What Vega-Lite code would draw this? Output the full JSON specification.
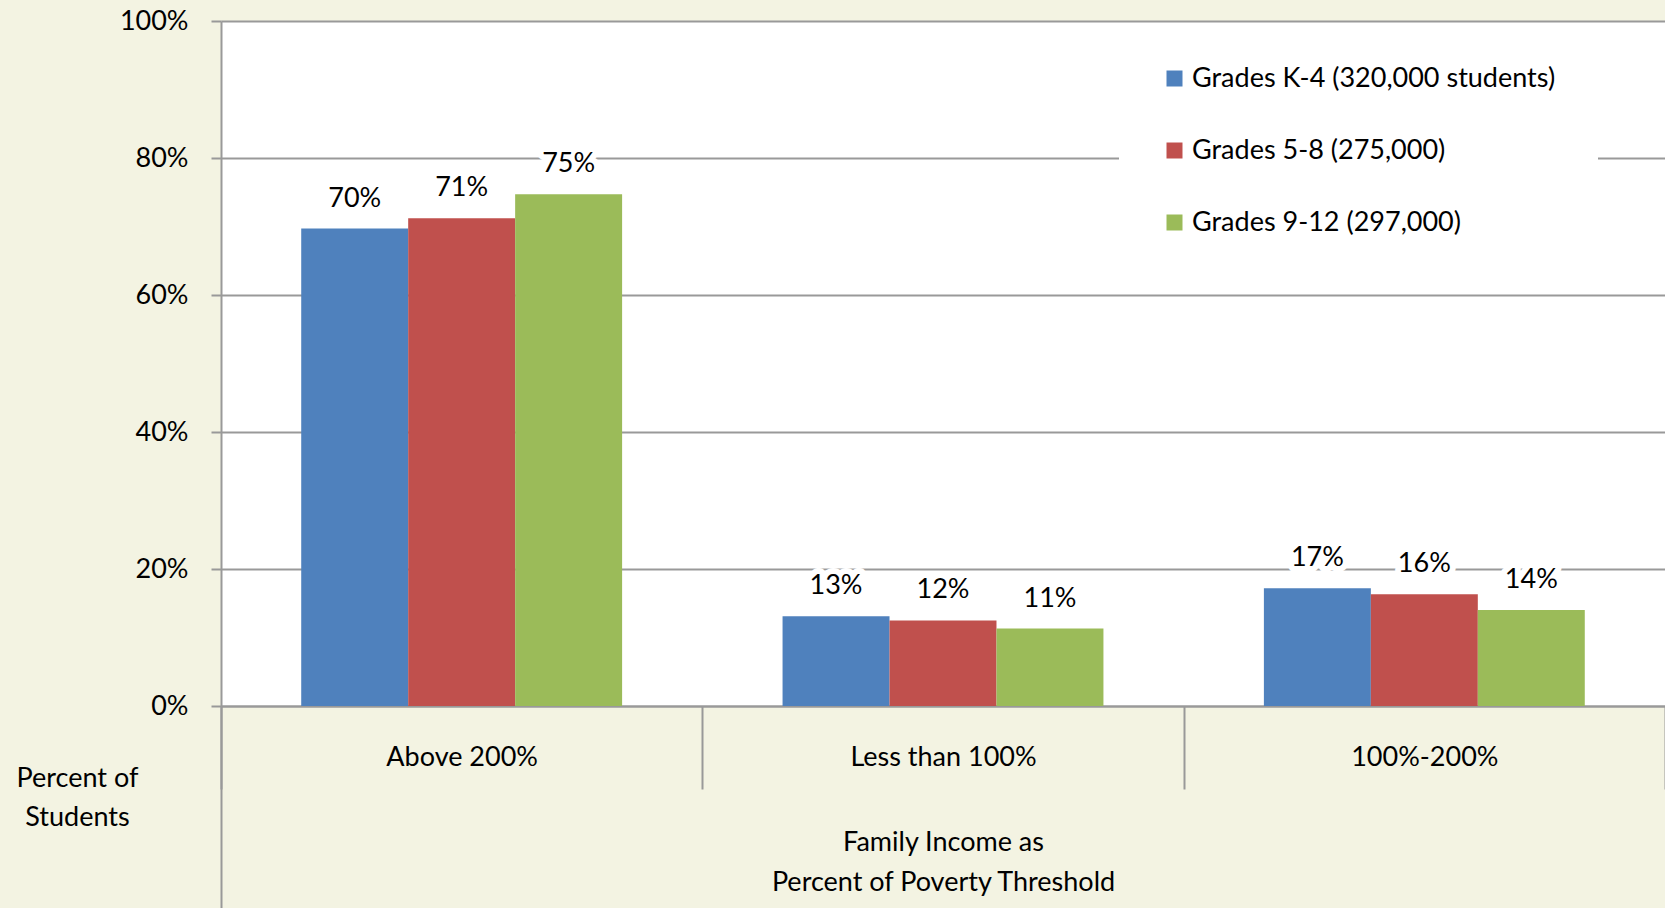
{
  "$schema": "https://vega.github.io/schema/vega-lite/v6.json",
  "width": 1444,
  "height": 685,
  "autosize": {"type": "none"},
  "padding": {"left": 221, "top": 21, "right": 0, "bottom": 202},
  "background": "#F3F3E2",
  "config": {"view": {"fill": "white", "stroke": null}, "font": "Lato"},
  "data": {
    "values": [
      {"income": "Above 200%", "grade": "Grades K-4 (320,000 students)", "value": 0.697, "label": "70%"},
      {"income": "Above 200%", "grade": "Grades 5-8 (275,000)", "value": 0.712, "label": "71%"},
      {"income": "Above 200%", "grade": "Grades 9-12 (297,000)", "value": 0.747, "label": "75%"},
      {"income": "Less than 100%", "grade": "Grades K-4 (320,000 students)", "value": 0.131, "label": "13%"},
      {"income": "Less than 100%", "grade": "Grades 5-8 (275,000)", "value": 0.125, "label": "12%"},
      {"income": "Less than 100%", "grade": "Grades 9-12 (297,000)", "value": 0.113, "label": "11%"},
      {"income": "100%-200%", "grade": "Grades K-4 (320,000 students)", "value": 0.172, "label": "17%"},
      {"income": "100%-200%", "grade": "Grades 5-8 (275,000)", "value": 0.163, "label": "16%"},
      {"income": "100%-200%", "grade": "Grades 9-12 (297,000)", "value": 0.140, "label": "14%"}
    ]
  },
  "layer": [
    {
      "encoding": {
        "x": {
          "field": "income", "type": "nominal",
          "sort": ["Above 200%", "Less than 100%", "100%-200%"],
          "scale": {"paddingInner": 0, "paddingOuter": 0},
          "axis": {
            "tickBand": "extent", "tickSize": 83, "tickColor": "#999999", "tickWidth": 2,
            "labelFontSize": 27, "labelColor": "black", "labelBaseline": "middle", "labelPadding": -32, "labelAngle": 0, "labelLimit": 450,
            "domainColor": "#999999", "domainWidth": 2,
            "title": ["Family Income as", "Percent of Poverty Threshold"],
            "titleFontSize": 27, "titleFontWeight": "normal", "titleColor": "black",
            "titleBaseline": "middle", "titleY": 136, "titleLineHeight": 40
          }
        },
        "xOffset": {
          "field": "grade", "type": "nominal",
          "sort": ["Grades K-4 (320,000 students)", "Grades 5-8 (275,000)", "Grades 9-12 (297,000)"],
          "scale": {"paddingInner": 0, "paddingOuter": 0.75}
        },
        "y": {
          "field": "value", "type": "quantitative",
          "scale": {"domain": [0, 1]},
          "axis": {
            "values": [0, 0.2, 0.4, 0.6, 0.8, 1], "format": ".0%",
            "labelFontSize": 27, "labelColor": "black", "labelPadding": 23,
            "tickSize": 10, "tickColor": "#999999", "tickWidth": 2,
            "domainColor": "#999999", "domainWidth": 2,
            "gridColor": "#999999", "gridWidth": 2,
            "title": ["Percent of", "Students"], "titleAngle": 0, "titleAlign": "center",
            "titleBaseline": "middle", "titleX": -144, "titleY": 757,
            "titleFontSize": 27, "titleFontWeight": "normal", "titleColor": "black", "titleLineHeight": 39
          }
        }
      },
      "layer": [
        {
          "mark": {"type": "bar"},
          "encoding": {
            "color": {
              "field": "grade", "type": "nominal",
              "scale": {
                "domain": ["Grades K-4 (320,000 students)", "Grades 5-8 (275,000)", "Grades 9-12 (297,000)"],
                "range": ["#4F81BD", "#C0504D", "#9BBB59"]
              },
              "legend": {
                "orient": "none", "legendX": 898, "legendY": 2,
                "fillColor": "white", "padding": 42, "title": null,
                "symbolType": "square", "symbolSize": 256, "symbolStrokeWidth": 0,
                "labelFontSize": 27, "labelColor": "black", "labelOffset": 4, "labelLimit": 700,
                "rowPadding": 44
              }
            }
          }
        },
        {
          "mark": {"type": "text", "fill": "white", "stroke": "white", "strokeWidth": 12, "strokeJoin": "round", "baseline": "middle", "dy": -30, "fontSize": 27},
          "encoding": {"text": {"field": "label"}}
        },
        {
          "mark": {"type": "text", "color": "black", "baseline": "middle", "dy": -30, "fontSize": 27},
          "encoding": {"text": {"field": "label"}}
        }
      ]
    },
    {
      "mark": {"type": "text"},
      "encoding": {
        "x": {
          "field": "income", "type": "nominal",
          "sort": ["Above 200%", "Less than 100%", "100%-200%"],
          "scale": {"paddingInner": 0, "paddingOuter": 0},
          "axis": {
            "orient": "bottom", "values": ["Above 200%"], "tickOffset": -240.7,
            "tickSize": 202, "tickColor": "#999999", "tickWidth": 2,
            "labels": false, "domain": false, "grid": false, "title": null
          }
        },
        "text": {"value": ""}
      }
    }
  ],
  "resolve": {"scale": {"x": "independent"}}
}
